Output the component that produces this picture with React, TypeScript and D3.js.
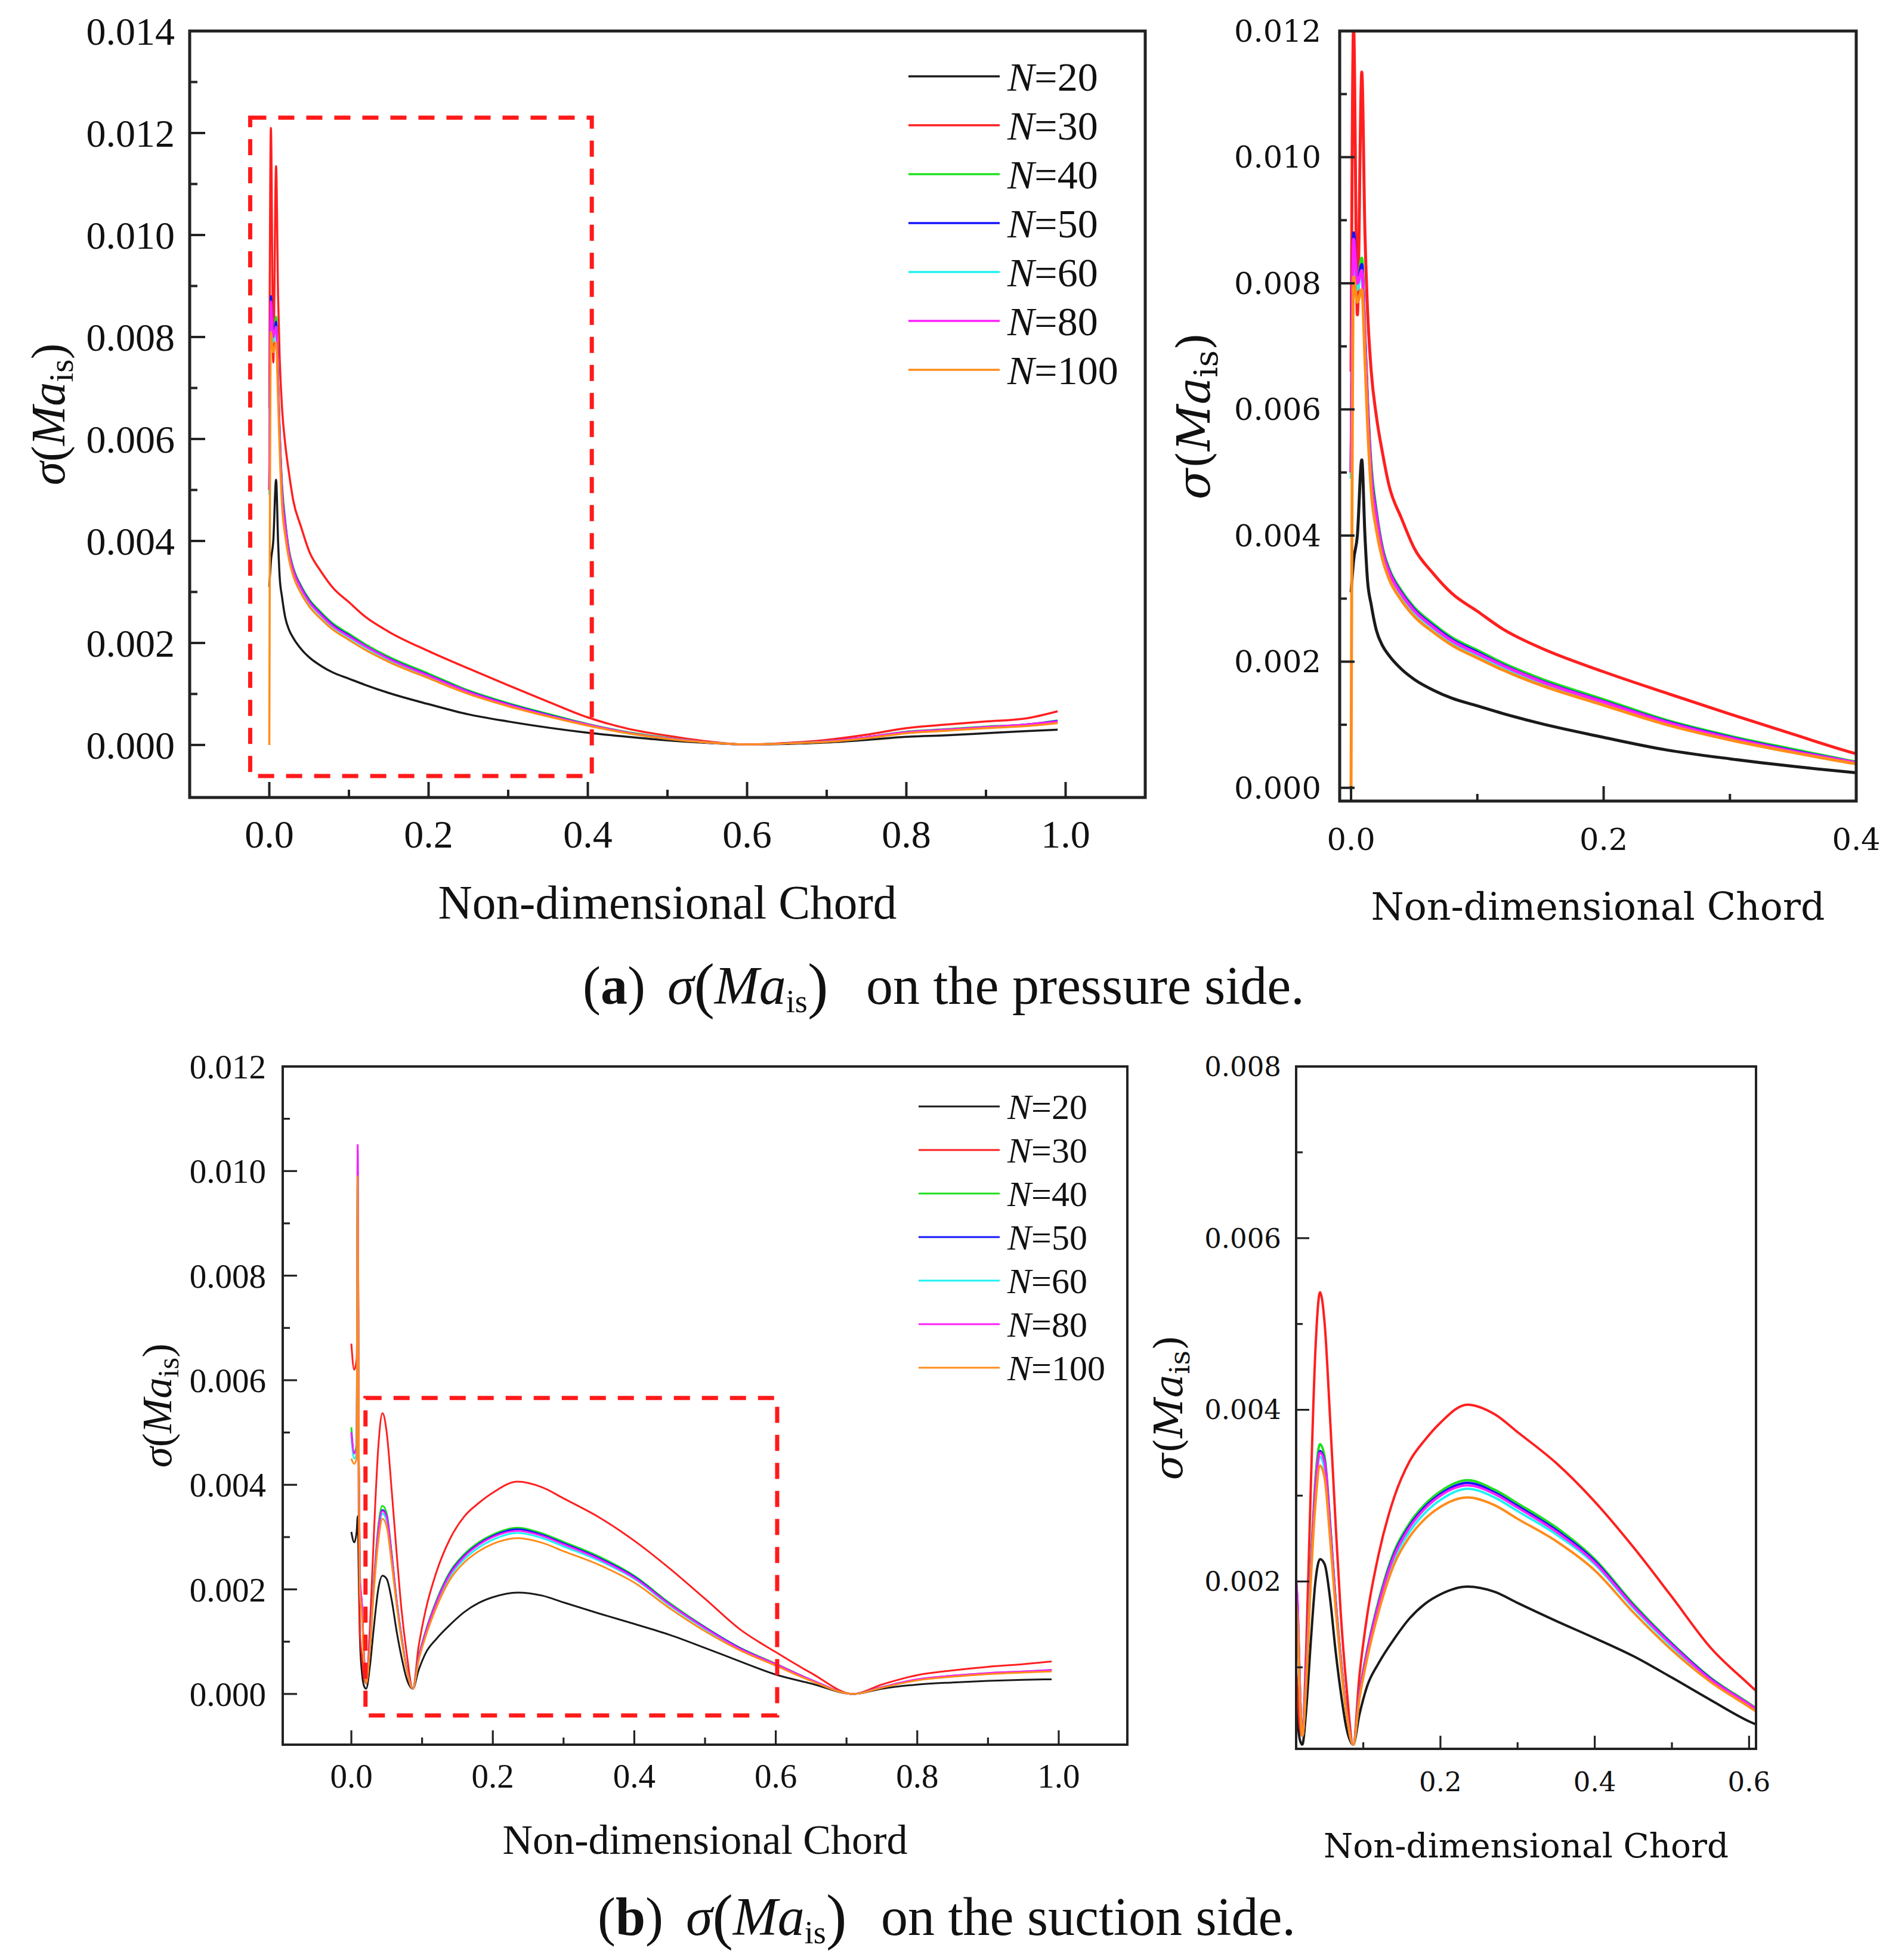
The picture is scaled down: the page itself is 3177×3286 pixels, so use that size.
import React from 'react';
import * as d3 from 'd3';

// ---------------- DATA ----------------
const SERIES_NAMES = ['20', '30', '40', '50', '60', '80', '100'];
const SERIES_COLORS = ['#1a1a1a', '#ff1f1f', '#1fe01f', '#1414ff', '#1ff2f2', '#ff1fff', '#ff8c1a'];

// Pressure side
const P_X = [0, 0.002, 0.005, 0.0085, 0.011, 0.013, 0.016, 0.02, 0.025, 0.03, 0.04, 0.05, 0.065, 0.08, 0.1, 0.12, 0.15, 0.2, 0.25, 0.3, 0.35, 0.4, 0.45, 0.5, 0.55, 0.6, 0.65, 0.7, 0.75, 0.8, 0.85, 0.9, 0.95, 0.99];
const P_N20 = [0.0031, 0.0036, 0.0040, 0.0052, 0.0040, 0.0033, 0.0029, 0.0025, 0.00225, 0.0021, 0.00188, 0.00172, 0.00155, 0.00142, 0.0013, 0.00118, 0.00102, 0.0008, 0.0006, 0.00046, 0.00034, 0.00024, 0.00016, 0.00009, 0.00004, 0.00001, 0.00002, 0.00005, 0.0001, 0.00016, 0.00019, 0.00023, 0.00027, 0.0003];
const P_N30 = [0.0066, 0.0121, 0.0075, 0.01135, 0.0088, 0.0076, 0.0066, 0.0059, 0.0053, 0.0048, 0.00427, 0.0038, 0.0034, 0.00308, 0.0028, 0.00252, 0.00222, 0.00184, 0.0015, 0.00117, 0.00085, 0.00054, 0.00032, 0.00018, 0.00007, 0.00001, 0.00004, 0.0001, 0.0002, 0.00033, 0.0004, 0.00046, 0.00052, 0.00066];
const P_N40 = [0.0050, 0.0082, 0.0079, 0.0084, 0.0072, 0.0062, 0.0051, 0.0044, 0.0038, 0.00348, 0.00312, 0.00286, 0.0026, 0.00238, 0.00218, 0.00198, 0.00173, 0.0014, 0.00107, 0.00082, 0.00061, 0.00041, 0.00025, 0.00014, 0.00005, 0.00001, 0.00003, 0.00007, 0.00015, 0.00026, 0.00031, 0.00036, 0.0004, 0.00048];
const P_N50 = [0.0050, 0.0088, 0.0080, 0.0083, 0.0071, 0.0061, 0.0050, 0.00435, 0.00376, 0.00345, 0.00309, 0.00283, 0.00257, 0.00235, 0.00215, 0.00195, 0.0017, 0.00137, 0.00105, 0.0008, 0.00059, 0.0004, 0.00024, 0.00013, 0.00005, 0.00001, 0.00003, 0.00007, 0.00015, 0.00025, 0.0003, 0.00035, 0.0004, 0.00047];
const P_N60 = [0.0049, 0.0085, 0.0079, 0.0082, 0.0070, 0.0060, 0.0049, 0.0043, 0.00372, 0.00341, 0.00305, 0.00279, 0.00253, 0.00231, 0.00211, 0.00192, 0.00167, 0.00134, 0.00103, 0.00078, 0.00057, 0.00039, 0.00023, 0.00013, 0.00005, 0.00001, 0.00003, 0.00007, 0.00014, 0.00024, 0.00029, 0.00034, 0.00039, 0.00045];
const P_N80 = [0.0050, 0.0087, 0.0080, 0.0082, 0.0071, 0.0061, 0.00495, 0.00432, 0.00374, 0.00343, 0.00307, 0.00281, 0.00255, 0.00233, 0.00213, 0.00194, 0.00169, 0.00136, 0.00104, 0.00079, 0.00058, 0.0004, 0.00024, 0.00013, 0.00005, 0.00001, 0.00003, 0.00007, 0.00015, 0.00025, 0.0003, 0.00035, 0.0004, 0.00046];
const P_N100 = [0.0, 0.0081, 0.0077, 0.0079, 0.0068, 0.0058, 0.0047, 0.0041, 0.00362, 0.00332, 0.00297, 0.00272, 0.00247, 0.00226, 0.00206, 0.00187, 0.00163, 0.00131, 0.001, 0.00076, 0.00056, 0.00038, 0.00023, 0.00012, 0.00005, 0.00001, 0.00003, 0.00006, 0.00013, 0.00023, 0.00028, 0.00033, 0.00037, 0.00043];

// Suction side
const S_X = [0, 0.004, 0.0075, 0.009, 0.0105, 0.012, 0.015, 0.018, 0.021, 0.026, 0.032, 0.038, 0.044, 0.05, 0.057, 0.064, 0.071, 0.078, 0.087, 0.095, 0.105, 0.12, 0.14, 0.16, 0.18, 0.2, 0.235, 0.27, 0.3, 0.35, 0.4, 0.45, 0.5, 0.55, 0.6, 0.65, 0.71, 0.75, 0.8, 0.85, 0.9, 0.95, 0.99];
const S_N20 = [0.0031, 0.0029, 0.0031, 0.0034, 0.0022, 0.0011, 0.0004, 0.00015, 0.0001, 0.0005, 0.0013, 0.0020, 0.00226, 0.0022, 0.0018, 0.0012, 0.0007, 0.0003, 0.0001, 0.00045, 0.00078, 0.00105, 0.00133, 0.00157, 0.00174, 0.00185, 0.00194, 0.00188, 0.00175, 0.00154, 0.00134, 0.00113, 0.00088, 0.00062, 0.00037, 0.0002, 0.0, 0.0001, 0.00018, 0.00022, 0.00025, 0.00027, 0.00028];
const S_N30 = [0.0067, 0.0062, 0.0064, 0.0075, 0.0030, 0.0012, 0.0007, 0.0003, 0.0002, 0.0012, 0.0031, 0.0047, 0.00537, 0.0050, 0.0039, 0.0027, 0.0016, 0.0008, 0.0001, 0.0009, 0.0016, 0.00232, 0.00298, 0.0034, 0.00365, 0.00385, 0.00406, 0.00395, 0.00374, 0.00338, 0.00293, 0.0024, 0.00182, 0.00123, 0.0008, 0.0004, 0.0, 0.00018, 0.00036, 0.00045, 0.00052, 0.00057, 0.00062];
const S_N40 = [0.0051, 0.0046, 0.0048, 0.0100, 0.0045, 0.0022, 0.0016, 0.0007, 0.0002, 0.0009, 0.0022, 0.0032, 0.0036, 0.00345, 0.0027, 0.0018, 0.0011, 0.0005, 0.0001, 0.0007, 0.0012, 0.00178, 0.00235, 0.00268, 0.0029, 0.00305, 0.00318, 0.00307, 0.00291, 0.00263, 0.00226, 0.00174, 0.00128, 0.00088, 0.00058, 0.00027, 0.0, 0.00013, 0.00028, 0.00035, 0.0004, 0.00043, 0.00046];
const S_N50 = [0.0050, 0.0046, 0.0047, 0.0104, 0.0045, 0.0022, 0.0017, 0.0007, 0.0002, 0.0009, 0.0021, 0.0031, 0.00352, 0.0034, 0.00265, 0.00178, 0.00108, 0.0005, 0.0001, 0.00068, 0.00118, 0.00175, 0.00232, 0.00265, 0.00287, 0.00302, 0.00315, 0.00304, 0.00288, 0.0026, 0.00224, 0.00172, 0.00127, 0.00087, 0.00057, 0.00027, 0.0, 0.00013, 0.00027, 0.00034, 0.00039, 0.00042, 0.00045];
const S_N60 = [0.0049, 0.0045, 0.0046, 0.0098, 0.0044, 0.0021, 0.0016, 0.0007, 0.0002, 0.0009, 0.0021, 0.0030, 0.00345, 0.0033, 0.0026, 0.00175, 0.00106, 0.0005, 0.0001, 0.00066, 0.00115, 0.0017, 0.00226, 0.00258, 0.0028, 0.00295, 0.00308, 0.00298, 0.00282, 0.00255, 0.0022, 0.00169, 0.00124, 0.00085, 0.00056, 0.00026, 0.0, 0.00013, 0.00027, 0.00034, 0.00039, 0.00042, 0.00045];
const S_N80 = [0.0050, 0.0046, 0.0047, 0.0105, 0.0046, 0.0023, 0.0017, 0.0007, 0.0002, 0.0009, 0.0021, 0.0031, 0.0035, 0.00338, 0.00264, 0.00177, 0.00107, 0.0005, 0.0001, 0.00068, 0.00117, 0.00174, 0.0023, 0.00263, 0.00285, 0.003, 0.00312, 0.00302, 0.00286, 0.00258, 0.00222, 0.00171, 0.00126, 0.00086, 0.00057, 0.00027, 0.0, 0.00013, 0.00028, 0.00035, 0.0004, 0.00043, 0.00046];
const S_N100 = [0.0045, 0.0044, 0.0045, 0.0099, 0.0042, 0.0020, 0.0015, 0.0006, 0.0002, 0.0008, 0.0020, 0.0029, 0.00335, 0.0032, 0.0025, 0.0017, 0.00102, 0.00048, 0.0001, 0.00063, 0.0011, 0.00165, 0.0022, 0.00252, 0.00273, 0.00287, 0.00298, 0.00289, 0.00273, 0.00247, 0.00213, 0.00164, 0.0012, 0.00083, 0.00054, 0.00025, 0.0, 0.00012, 0.00026, 0.00033, 0.00038, 0.00041, 0.00043];

const P_SERIES = [P_N20, P_N30, P_N40, P_N50, P_N60, P_N80, P_N100];
const S_SERIES = [S_N20, S_N30, S_N40, S_N50, S_N60, S_N80, S_N100];

// Ticks
const TL_Y_TICKS = [0, 0.002, 0.004, 0.006, 0.008, 0.01, 0.012, 0.014];
const TL_Y_MINOR = [0.001, 0.003, 0.005, 0.007, 0.009, 0.011, 0.013];
const FULL_X_TICKS = [0, 0.2, 0.4, 0.6, 0.8, 1.0];
const FULL_X_MINOR = [0.1, 0.3, 0.5, 0.7, 0.9];
const TR_Y_TICKS = [0, 0.002, 0.004, 0.006, 0.008, 0.01, 0.012];
const TR_Y_MINOR = [0.001, 0.003, 0.005, 0.007, 0.009, 0.011];
const TR_X_TICKS = [0, 0.2, 0.4];
const TR_X_MINOR = [0.1, 0.3];
const BL_Y_TICKS = [0, 0.002, 0.004, 0.006, 0.008, 0.01, 0.012];
const BL_Y_MINOR = [0.001, 0.003, 0.005, 0.007, 0.009, 0.011];
const BR_Y_TICKS = [0.002, 0.004, 0.006, 0.008];
const BR_Y_MINOR = [0.001, 0.003, 0.005, 0.007];
const BR_X_TICKS = [0.2, 0.4, 0.6];
const BR_X_MINOR = [0.1, 0.3, 0.5];

// Zoom-region boxes [x0, x1, y0, y1]
const TL_BOX = [-0.024, 0.405, -0.00061, 0.0123];
const BL_BOX = [0.02, 0.602, -0.00041, 0.00566];

const X_TITLE = 'Non-dimensional Chord';

type PanelProps = {
  id: string;
  l: number; t: number; r: number; b: number;
  xDomain: [number, number]; yDomain: [number, number];
  xs: number[]; series: number[][];
  yTicks: number[]; yMinor: number[]; xTicks: number[]; xMinor: number[];
  font: string; tickFont: number; yLabelGap: number; xLabelBase: number;
  titleFont: number; titleBase: number; titleLen: number;
  yTitleX: number; yTitleFont: number;
  frameW: number; lineW: number; majorLen: number; minorLen: number;
  legend?: { x1: number; x2: number; tx: number; y0: number; dy: number; font: number };
  box?: number[];
};

function Panel(p: PanelProps) {
  const x = d3.scaleLinear().domain(p.xDomain).range([p.l, p.r]);
  const y = d3.scaleLinear().domain(p.yDomain).range([p.b, p.t]);
  const line = d3
    .line<[number, number]>()
    .x((d) => x(d[0]))
    .y((d) => y(d[1]))
    .curve(d3.curveMonotoneX);
  const fy = d3.format('.3f');
  const fx = d3.format('.1f');
  const axisColor = '#222';
  const yTitleCy = (p.t + p.b) / 2;
  const F = p.yTitleFont;
  return (
    <g>
      <defs>
        <clipPath id={`clip-${p.id}`}>
          <rect x={p.l} y={p.t} width={p.r - p.l} height={p.b - p.t} />
        </clipPath>
      </defs>
      <g clipPath={`url(#clip-${p.id})`}>
        {p.series.map((s, i) => (
          <path
            key={i}
            d={line(p.xs.map((xv, j) => [xv, s[j]] as [number, number])) || ''}
            fill="none"
            stroke={SERIES_COLORS[i]}
            strokeWidth={p.lineW}
            strokeLinejoin="round"
          />
        ))}
      </g>
      {p.box && (
        <rect
          x={x(p.box[0])}
          y={y(p.box[3])}
          width={x(p.box[1]) - x(p.box[0])}
          height={y(p.box[2]) - y(p.box[3])}
          fill="none"
          stroke="#ff1a1a"
          strokeWidth={7}
          strokeDasharray="27 20"
        />
      )}
      {p.yTicks.map((v) => (
        <line key={'yt' + v} x1={p.l} x2={p.l + p.majorLen} y1={y(v)} y2={y(v)} stroke={axisColor} strokeWidth={p.frameW * 0.8} />
      ))}
      {p.yMinor.map((v) => (
        <line key={'ym' + v} x1={p.l} x2={p.l + p.minorLen} y1={y(v)} y2={y(v)} stroke={axisColor} strokeWidth={p.frameW * 0.8} />
      ))}
      {p.xTicks.map((v) => (
        <line key={'xt' + v} x1={x(v)} x2={x(v)} y1={p.b} y2={p.b - p.majorLen} stroke={axisColor} strokeWidth={p.frameW * 0.8} />
      ))}
      {p.xMinor.map((v) => (
        <line key={'xm' + v} x1={x(v)} x2={x(v)} y1={p.b} y2={p.b - p.minorLen} stroke={axisColor} strokeWidth={p.frameW * 0.8} />
      ))}
      <rect x={p.l} y={p.t} width={p.r - p.l} height={p.b - p.t} fill="none" stroke={axisColor} strokeWidth={p.frameW} />
      {p.yTicks.map((v) => (
        <text key={'yl' + v} x={p.l - p.yLabelGap} y={y(v)} dy="0.35em" textAnchor="end" fontFamily={p.font} fontSize={p.tickFont} fill="#111">
          {fy(v)}
        </text>
      ))}
      {p.xTicks.map((v) => (
        <text key={'xl' + v} x={x(v)} y={p.xLabelBase} textAnchor="middle" fontFamily={p.font} fontSize={p.tickFont} fill="#111">
          {fx(v)}
        </text>
      ))}
      <text
        x={(p.l + p.r) / 2}
        y={p.titleBase}
        textAnchor="middle"
        fontFamily={p.font}
        fontSize={p.titleFont}
        textLength={p.titleLen}
        lengthAdjust="spacingAndGlyphs"
        fill="#111"
      >
        {X_TITLE}
      </text>
      <text
        transform={`translate(${p.yTitleX + F * 0.35},${yTitleCy}) rotate(-90)`}
        textAnchor="middle"
        fontFamily={p.font}
        fontSize={F}
        fill="#111"
      >
        <tspan fontStyle="italic">σ</tspan>
        <tspan>(</tspan>
        <tspan fontStyle="italic">Ma</tspan>
        <tspan fontSize={F * 0.72} dy={F * 0.18}>is</tspan>
        <tspan dy={-F * 0.18}>)</tspan>
      </text>
      {p.legend &&
        SERIES_NAMES.map((n, i) => {
          const lg = p.legend!;
          const yy = lg.y0 + i * lg.dy;
          return (
            <g key={'lg' + n}>
              <line x1={lg.x1} x2={lg.x2} y1={yy} y2={yy} stroke={SERIES_COLORS[i]} strokeWidth={p.lineW} />
              <text x={lg.tx} y={yy} dy="0.35em" fontFamily="Liberation Serif" fontSize={lg.font} fill="#111">
                <tspan fontStyle="italic">N</tspan>
                <tspan>={n}</tspan>
              </text>
            </g>
          );
        })}
    </g>
  );
}

function Caption(props: { letter: string; rest: string; base: number; xs: number[] }) {
  const F = 90;
  return (
    <text y={props.base} fontFamily="Liberation Serif" fontSize={F} fill="#111">
      <tspan x={props.xs[0]}>(</tspan>
      <tspan fontWeight="bold">{props.letter}</tspan>
      <tspan>)</tspan>
      <tspan x={props.xs[1]} fontStyle="italic">σ</tspan>
      <tspan fontSize={F * 1.15} dy={F * 0.04}>(</tspan>
      <tspan fontStyle="italic" dy={-F * 0.04}>Ma</tspan>
      <tspan fontSize={F * 0.6} dy={F * 0.16}>is</tspan>
      <tspan fontSize={F * 1.15} dy={-F * 0.12}>)</tspan>
      <tspan x={props.xs[2]} dy={-F * 0.04}>{props.rest}</tspan>
    </text>
  );
}

export default function App() {
  return (
    <svg
      width={3177}
      height={3286}
      viewBox="0 0 3177 3286"
      style={{ position: 'absolute', left: 0, top: 0, display: 'block', background: '#fff' }}
    >
      <rect x={0} y={0} width={3177} height={3286} fill="#fff" />
      <Panel
        id="tl" l={318} t={52} r={1920} b={1337}
        xDomain={[-0.1, 1.1]} yDomain={[-0.00103, 0.014]}
        xs={P_X} series={P_SERIES}
        yTicks={TL_Y_TICKS} yMinor={TL_Y_MINOR} xTicks={FULL_X_TICKS} xMinor={FULL_X_MINOR}
        font="Liberation Serif" tickFont={66} yLabelGap={25} xLabelBase={1421}
        titleFont={80} titleBase={1540} titleLen={769}
        yTitleX={80} yTitleFont={80}
        frameW={5} lineW={3.5} majorLen={26} minorLen={13}
        legend={{ x1: 1523, x2: 1676, tx: 1689, y0: 128, dy: 82, font: 68 }}
        box={TL_BOX}
      />
      <Panel
        id="tr" l={2246} t={52} r={3112} b={1343}
        xDomain={[-0.009, 0.4]} yDomain={[-0.00021, 0.012]}
        xs={P_X} series={P_SERIES}
        yTicks={TR_Y_TICKS} yMinor={TR_Y_MINOR} xTicks={TR_X_TICKS} xMinor={TR_X_MINOR}
        font="DejaVu Serif" tickFont={51} yLabelGap={31} xLabelBase={1425}
        titleFont={63} titleBase={1542} titleLen={761}
        yTitleX={2001} yTitleFont={76}
        frameW={5} lineW={5} majorLen={25} minorLen={12}
      />
      <Panel
        id="bl" l={474} t={1788} r={1890} b={2925}
        xDomain={[-0.097, 1.097]} yDomain={[-0.00097, 0.012]}
        xs={S_X} series={S_SERIES}
        yTicks={BL_Y_TICKS} yMinor={BL_Y_MINOR} xTicks={FULL_X_TICKS} xMinor={FULL_X_MINOR}
        font="Liberation Serif" tickFont={57} yLabelGap={28} xLabelBase={2997}
        titleFont={70} titleBase={3108} titleLen={679}
        yTitleX={262} yTitleFont={70}
        frameW={4} lineW={3} majorLen={24} minorLen={12}
        legend={{ x1: 1540, x2: 1676, tx: 1689, y0: 1855, dy: 73, font: 60 }}
        box={BL_BOX}
      />
      <Panel
        id="br" l={2173} t={1788} r={2944} b={2932}
        xDomain={[0.013, 0.609]} yDomain={[0.00005, 0.008]}
        xs={S_X} series={S_SERIES}
        yTicks={BR_Y_TICKS} yMinor={BR_Y_MINOR} xTicks={BR_X_TICKS} xMinor={BR_X_MINOR}
        font="DejaVu Serif" tickFont={45} yLabelGap={25} xLabelBase={3003}
        titleFont={56} titleBase={3114} titleLen={679}
        yTitleX={1959} yTitleFont={66}
        frameW={4} lineW={4} majorLen={22} minorLen={11}
      />
      <Caption letter="a" rest="on the pressure side." base={1683} xs={[977, 1119, 1452]} />
      <Caption letter="b" rest="on the suction side." base={3244} xs={[1002, 1150, 1477]} />
    </svg>
  );
}
